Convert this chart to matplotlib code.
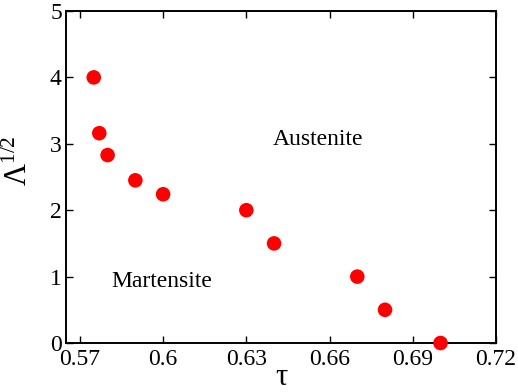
import matplotlib
matplotlib.use("Agg")
import matplotlib.pyplot as plt

tau = [0.575, 0.577, 0.58, 0.59, 0.60, 0.63, 0.64, 0.67, 0.68, 0.70]
lam_sqrt = [4.0, 3.16, 2.83, 2.45, 2.24, 2.0, 1.5, 1.0, 0.5, 0.0]
xticks = [0.57, 0.60, 0.63, 0.66, 0.69, 0.72]
xticklabels = ["0.57", "0.6", "0.63", "0.66", "0.69", "0.72"]
yticks = [0, 1, 2, 3, 4, 5]

plt.rcParams["font.family"] = ["Liberation Serif", "DejaVu Serif"]
plt.rcParams["mathtext.fontset"] = "custom"
plt.rcParams["mathtext.rm"] = "Liberation Serif"
plt.rcParams["mathtext.it"] = "Liberation Serif:italic"

fig = plt.figure(figsize=(5.18, 3.92), dpi=100)
ax = fig.add_axes([66 / 518, 1 - 343 / 392, 430 / 518, 332 / 392])

ax.scatter(tau, lam_sqrt, s=110, color="#ff0000", edgecolors="none", zorder=3, clip_on=False)

ax.set_xlim(0.565, 0.72)
ax.set_ylim(0, 5)
ax.set_xticks(xticks)
ax.set_xticklabels(xticklabels)
ax.set_yticks(yticks)
ax.tick_params(direction="in", length=5, width=1, top=True, right=True,
               labelsize=17)
ax.tick_params(axis="x", pad=4)
ax.tick_params(axis="y", pad=3)
for s in ax.spines.values():
    s.set_linewidth(1.4)

ax.set_xlabel("τ", fontsize=22, labelpad=-5)
ax.set_ylabel(r"Λ$^{\mathit{1/2}}$", fontsize=22)
ax.yaxis.set_label_coords(-0.075, 0.55)

ax.text(0.6558, 3.06, "Austenite", fontsize=17, ha="center", va="center")
ax.text(0.5997, 0.92, "Martensite", fontsize=17, ha="center", va="center")

fig.savefig("out.png", dpi=100)
